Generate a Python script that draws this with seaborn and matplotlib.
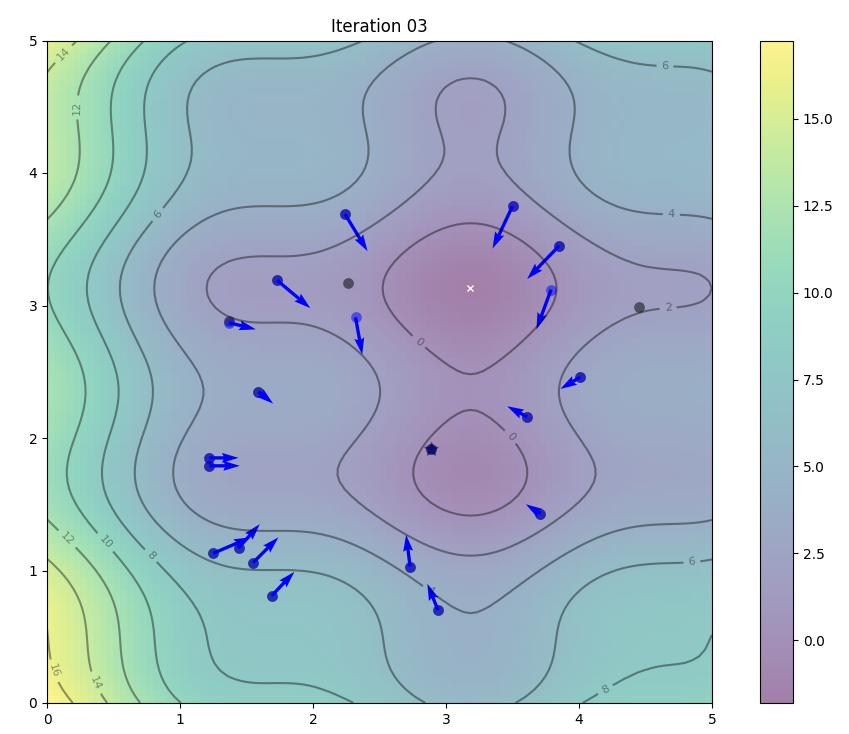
import numpy as np
import pandas as pd
import matplotlib
matplotlib.use("Agg")
import matplotlib.pyplot as plt
import seaborn as sns

# ---- data ----
title = "Iteration 03"
# particle positions
px = [2.24, 1.73, 1.37, 2.32, 3.50, 3.85, 3.79, 4.01, 3.61, 1.59,
      1.22, 1.22, 3.71, 1.25, 1.44, 1.55, 1.69, 2.73, 2.94, 2.89]
py = [3.69, 3.19, 2.87, 2.91, 3.75, 3.45, 3.12, 2.46, 2.16, 2.35,
      1.85, 1.79, 1.43, 1.13, 1.17, 1.06, 0.81, 1.03, 0.70, 1.92]
# particle velocities
vx = [0.17, 0.25, 0.20, 0.05, -0.15, -0.24, -0.11, -0.15, -0.15, 0.11,
      0.22, 0.23, -0.11, 0.28, 0.16, 0.19, 0.17, -0.03, -0.08, 0.0]
vy = [-0.28, -0.21, -0.05, -0.28, -0.32, -0.25, -0.30, -0.09, 0.08, -0.09,
      0.0, 0.0, 0.07, 0.12, 0.18, 0.19, 0.18, 0.24, 0.20, 0.0]
# personal bests
pbx = [2.24, 1.73, 1.37, 2.26, 3.50, 3.85, 4.45, 4.01, 3.61, 1.59,
       1.22, 1.22, 3.71, 1.25, 1.44, 1.55, 1.69, 2.73, 2.94, 2.89]
pby = [3.69, 3.19, 2.88, 3.17, 3.75, 3.45, 2.99, 2.46, 2.16, 2.35,
       1.85, 1.79, 1.43, 1.13, 1.17, 1.06, 0.81, 1.03, 0.70, 1.92]
# global best
gbest_x = [2.89]
gbest_y = [1.92]


def f(x, y):
    return (x - 3.14) ** 2 + (y - 2.72) ** 2 + np.sin(3 * x + 1.41) + np.sin(4 * y - 1.73)


gx, gy = np.meshgrid(np.linspace(0, 5, 100), np.linspace(0, 5, 100))
gz = f(gx, gy)
x_min = gx.ravel()[gz.argmin()]
y_min = gy.ravel()[gz.argmin()]

particles = pd.DataFrame({"x": px, "y": py, "vx": vx, "vy": vy})
pbest = pd.DataFrame({"x": pbx, "y": pby})

W, H = 849, 734
fig = plt.figure(figsize=(W / 100, H / 100), dpi=100)
ax = fig.add_axes([47 / W, (H - 703) / H, 665 / W, 662.5 / H])
cax = fig.add_axes([760 / W, (H - 703) / H, 33 / W, 662.5 / H])

img = ax.imshow(gz, extent=[0, 5, 0, 5], origin="lower", cmap="viridis", alpha=0.5, aspect="auto")
fig.colorbar(img, cax=cax)
ax.plot([x_min], [y_min], marker="x", markersize=5, color="white")
contours = ax.contour(gx, gy, gz, 10, colors="black", alpha=0.4)
ax.clabel(contours, inline=True, fontsize=8, fmt="%.0f")

sns.scatterplot(data=pbest, x="x", y="y", ax=ax, marker="o", color="black", alpha=0.5,
                s=60, linewidth=0, legend=False)
sns.scatterplot(data=particles, x="x", y="y", ax=ax, marker="o", color="blue", alpha=0.5,
                s=60, linewidth=0, legend=False)
ax.quiver(particles["x"], particles["y"], particles["vx"], particles["vy"], color="blue",
          width=0.005, angles="xy", scale_units="xy", scale=1)
ax.scatter(gbest_x, gbest_y, marker="*", s=100, color="black", alpha=0.4)

ax.set_xlim([0, 5])
ax.set_ylim([0, 5])
ax.set_xlabel("")
ax.set_ylabel("")
ax.set_title(title)

fig.savefig("out.png", dpi=100)
